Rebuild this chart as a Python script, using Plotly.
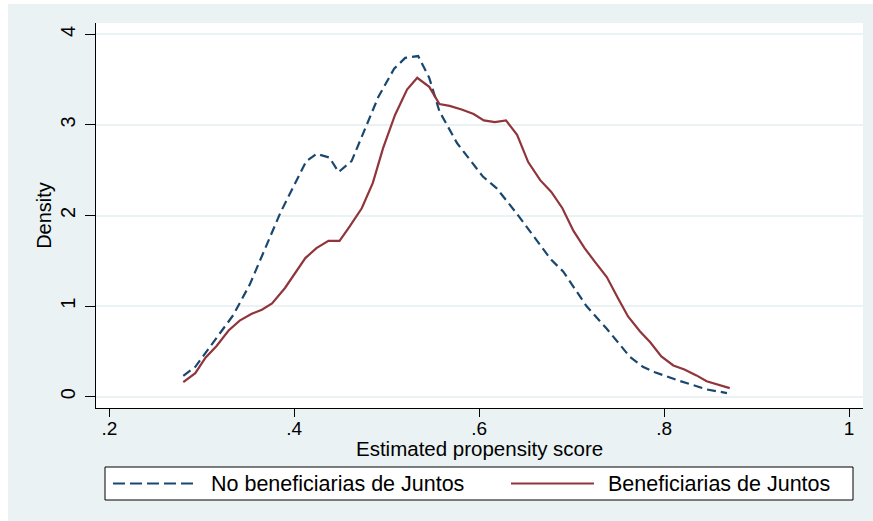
import plotly.graph_objects as go

# ---- data ----
x_no = [0.280, 0.293, 0.334, 0.352, 0.385, 0.405, 0.413, 0.424, 0.438, 0.448,
        0.462, 0.491, 0.508, 0.520, 0.534, 0.546, 0.557, 0.576, 0.604, 0.619,
        0.640, 0.678, 0.691, 0.716, 0.738, 0.763, 0.777, 0.790, 0.815, 0.846, 0.868]
y_no = [0.23, 0.33, 0.90, 1.24, 2.03, 2.45, 2.60, 2.68, 2.64, 2.48,
        2.60, 3.31, 3.62, 3.74, 3.76, 3.52, 3.15, 2.80, 2.43, 2.30,
        2.03, 1.51, 1.38, 1.00, 0.75, 0.44, 0.33, 0.27, 0.18, 0.08, 0.04]

x_si = [0.280, 0.293, 0.304, 0.316, 0.329, 0.341, 0.354, 0.365, 0.376, 0.390,
        0.412, 0.424, 0.437, 0.449, 0.460, 0.473, 0.485, 0.496, 0.509, 0.522,
        0.533, 0.546, 0.557, 0.568, 0.581, 0.594, 0.605, 0.617, 0.629, 0.641,
        0.653, 0.666, 0.678, 0.690, 0.702, 0.714, 0.725, 0.738, 0.750, 0.761,
        0.774, 0.785, 0.797, 0.810, 0.822, 0.835, 0.846, 0.871]
y_si = [0.16, 0.26, 0.43, 0.56, 0.73, 0.84, 0.915, 0.96, 1.03, 1.20,
        1.53, 1.64, 1.72, 1.72, 1.88, 2.08, 2.36, 2.74, 3.11, 3.39,
        3.52, 3.42, 3.23, 3.21, 3.17, 3.12, 3.05, 3.03, 3.05, 2.89,
        2.59, 2.39, 2.26, 2.08, 1.83, 1.64, 1.49, 1.32, 1.09, 0.885,
        0.72, 0.60, 0.445, 0.345, 0.30, 0.235, 0.17, 0.095]

series_names = ["No beneficiarias de Juntos", "Beneficiarias de Juntos"]
x_title = "Estimated propensity score"
y_title = "Density"
x_ticks = [0.2, 0.4, 0.6, 0.8, 1.0]
x_ticklabels = [".2", ".4", ".6", ".8", "1"]
y_ticks = [0, 1, 2, 3, 4]
y_ticklabels = ["0", "1", "2", "3", "4"]

NAVY = "#1a476f"
MAROON = "#90353b"
BG = "#eaf2f3"
FONT = "Liberation Sans, Arial, sans-serif"

W, H = 873, 521
ML, MR, MT, MB = 96, 10, 23, 113
PW, PH = W - ML - MR, H - MT - MB


def px(xp):
    return (xp - ML) / PW


def py(yp):
    return (H - MB - yp) / PH


fig = go.Figure()
fig.add_trace(go.Scatter(x=x_no, y=y_no, mode="lines", name=series_names[0],
                         line=dict(color=NAVY, width=2.2, dash="9px,5px"),
                         showlegend=False))
fig.add_trace(go.Scatter(x=x_si, y=y_si, mode="lines", name=series_names[1],
                         line=dict(color=MAROON, width=2.2),
                         showlegend=False))

shapes = [
    # outer graph region
    dict(type="rect", xref="paper", yref="paper", layer="below",
         x0=px(8), x1=px(W + 5), y0=py(H + 5), y1=py(4),
         fillcolor=BG, line=dict(width=0)),
    # plot region
    dict(type="rect", xref="paper", yref="paper", layer="below",
         x0=0, x1=1, y0=0, y1=1, fillcolor="white", line=dict(width=0)),
    # legend box
    dict(type="rect", xref="paper", yref="paper",
         x0=px(105), x1=px(853), y0=py(500), y1=py(467),
         fillcolor="white", line=dict(color="black", width=1)),
    dict(type="line", xref="paper", yref="paper",
         x0=px(113), x1=px(198), y0=py(483.5), y1=py(483.5),
         line=dict(color=NAVY, width=2.2, dash="12px,5px")),
    dict(type="line", xref="paper", yref="paper",
         x0=px(511), x1=px(594), y0=py(483.5), y1=py(483.5),
         line=dict(color=MAROON, width=2.2)),
]

annotations = [
    dict(xref="paper", yref="paper", x=px(209), y=py(484), xanchor="left",
         yanchor="middle", showarrow=False, text=series_names[0],
         font=dict(family=FONT, size=21.5, color="black")),
    dict(xref="paper", yref="paper", x=px(606), y=py(484), xanchor="left",
         yanchor="middle", showarrow=False, text=series_names[1],
         font=dict(family=FONT, size=21.5, color="black")),
    # x-axis title
    dict(xref="paper", yref="paper", x=0.5, y=py(449), xanchor="center",
         yanchor="middle", showarrow=False, text=x_title,
         font=dict(family=FONT, size=20.5, color="black")),
]

fig.update_layout(
    width=W, height=H,
    margin=dict(l=ML, r=MR, t=MT, b=MB, pad=0),
    paper_bgcolor="white", plot_bgcolor="rgba(0,0,0,0)",
    font=dict(family=FONT, color="black"),
    shapes=shapes, annotations=annotations,
    showlegend=False,
)
fig.update_xaxes(
    range=[0.1856, 1.0151], tickvals=x_ticks, ticktext=x_ticklabels,
    showgrid=False, zeroline=False, showline=True, linecolor="black", linewidth=1,
    ticks="outside", ticklen=8, tickcolor="black", tickwidth=1,
    tickfont=dict(size=19, family=FONT), ticklabelstandoff=-5,
    automargin=False,
)
fig.update_yaxes(
    range=[-0.125, 4.125], tickvals=y_ticks, ticktext=y_ticklabels,
    showgrid=True, gridcolor=BG, gridwidth=1.5, zeroline=False,
    showline=True, linecolor="black", linewidth=1,
    ticks="outside", ticklen=10, tickcolor="black", tickwidth=1,
    tickangle=-90, tickfont=dict(size=20, family=FONT), ticklabelstandoff=2,
    title=dict(text=y_title, font=dict(size=20, family=FONT), standoff=0),
    automargin=False,
)

fig.write_html(
    "out.html",
    config={"displayModeBar": False},
    post_script="document.body.style.margin='0px';"
                "document.documentElement.style.overflow='hidden';",
)
